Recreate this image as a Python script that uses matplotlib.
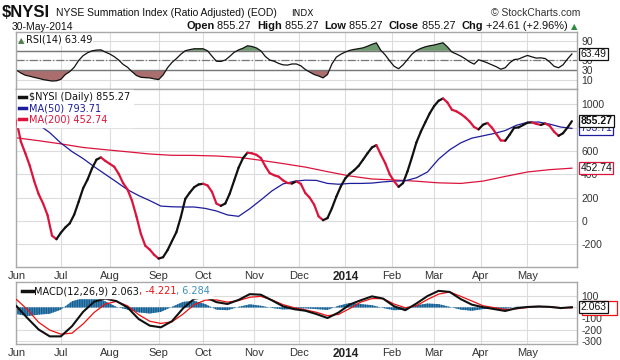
import numpy as np
import pandas as pd
import matplotlib
matplotlib.use("Agg")
import matplotlib.pyplot as plt
from matplotlib.collections import LineCollection
from matplotlib.lines import Line2D
from matplotlib.patches import Rectangle
from matplotlib.transforms import blended_transform_factory
from matplotlib.offsetbox import TextArea, HPacker, DrawingArea, AnchoredOffsetbox

plt.rcParams['font.family'] = ['Liberation Sans', 'DejaVu Sans']

# NYSE trading calendar Jun-2013 .. May-2014
holidays = ['2013-07-04', '2013-09-02', '2013-11-28', '2013-12-25', '2014-01-01',
            '2014-01-20', '2014-02-17', '2014-04-18', '2014-05-26']
days = pd.bdate_range('2013-06-03', '2014-05-30', freq='C', holidays=holidays)

# $NYSI close, every 2nd trading day
nysi = [860, 680, 580, 474, 341, 230, 150, 50, -125, -156,
        -100, -55, -20, 55, 165, 280, 355, 450, 525, 545,
        515, 490, 465, 405, 325, 270, 175, 40, -110, -212,
        -245, -290, -322, -310, -250, -172, -95, 35, 190, 243,
        290, 313, 319, 305, 250, 150, 130, 150, 235, 347,
        458, 540, 585, 580, 567, 540, 470, 410, 392, 380,
        348, 326, 321, 340, 318, 240, 200, 140, 40, 7,
        25, 110, 210, 297, 365, 405, 435, 472, 525, 580,
        630, 650, 570, 495, 400, 340, 293, 325, 425, 545,
        672, 765, 845, 922, 985, 1030, 1050, 1015, 953, 940,
        917, 888, 852, 805, 785, 825, 840, 800, 745, 690,
        688, 740, 798, 802, 822, 842, 845, 832, 823, 836,
        815, 765, 730, 752, 800, 855.27]

# RSI(14), every 2nd trading day
rsi = [30, 24, 19.5, 17.5, 15, 13, 10.5, 9, 7.5, 8,
       11, 21, 27, 36, 50, 60, 66, 70, 71.5, 72,
       67.5, 63.5, 58, 51, 42, 36, 27, 19, 15.3, 14.5,
       14, 12, 10.5, 20, 35, 46, 54, 63, 70.2, 72.5,
       74.3, 74.3, 74.3, 70, 59, 48.5, 48, 51, 58.5, 67,
       72, 75.5, 80.5, 79, 76, 70, 58.5, 51, 48.4, 44,
       41, 40.5, 42.8, 42.8, 39, 31.5, 26, 21, 18, 14,
       21, 43, 57, 63, 67.5, 71, 73, 74.5, 76.2, 79.5,
       83.5, 86.5, 71, 61.5, 49, 38, 33, 41, 52, 63,
       70.5, 75, 78.3, 80.5, 82, 84.5, 86.7, 78, 67.5, 63.5,
       59, 53.5, 47, 42.5, 51.5, 48.5, 45, 41, 37, 32,
       35, 45, 52, 53, 57, 60.5, 57.5, 55, 55.5, 54,
       47, 38, 35, 41, 53, 63.49]

# moving averages: MA(50) every 5th day, MA(200) every 10th day
ma50 = [955, 890, 825, 757, 668, 595, 535, 465, 400, 335,
        268, 218, 175, 128, 122, 120, 120, 108, 86, 52,
        40, 105, 180, 258, 318, 340, 350, 348, 322, 315,
        322, 322, 325, 335, 342, 345, 370, 420, 530, 610,
        670, 710, 730, 750, 775, 820, 846, 848, 830, 805,
        793.71]
ma200 = [713, 688, 661, 630, 611, 593, 574, 563, 562, 557,
         546, 520, 492, 462, 423, 386, 360, 352, 341, 327,
         322, 342, 382, 420, 440, 452.74]

# MACD(12,26,9), every 5th trading day
macd = [12, -98, -200, -262, -262, -170, -40, 52, 80, 57,
        0, -105, -165, -180, -125, -8, 78, 94, 48, 31,
        68, 120, 115, 64, 10, -16, -30, -60, -96, -46,
        26, 65, 100, 80, 10, -25, 35, 103, 150, 140,
        75, 25, 2, -15, -32, -7, 4, 9, 5, -6,
        2.063]
signal = [72, -20, -135, -205, -242, -233, -150, -45, 30, 55,
          14, -65, -125, -145, -130, -60, 25, 66, 68, 48,
          62, 92, 100, 68, 25, -3, -22, -44, -75, -63,
          -10, 48, 80, 80, 30, -3, 15, 72, 120, 140,
          100, 58, 15, -2, -19, -13, 0, 8, 6, -2,
          -4.221]
hist = [-60, -78, -65, -57, -20, 55, 85, 88, 55, 5,
        -20, -45, -55, -40, 5, 50, 60, 30, -20, -25,
        5, 28, 15, -5, -18, -15, -8, -15, -22, 15,
        40, 30, 20, -5, -25, -22, 20, 35, 30, 5,
        -20, -30, -15, -13, -13, 6, 5, 3, 0, -5,
        6.284]

BLACK = '#111111'
CRIMSON = '#dc143c'
NAVY = '#1c1c9c'
GRID = '#dcdcdc'
FRAME = '#a8a8a8'
TICK = '#333333'

pos = np.arange(len(days))
x2, x5, x10 = pos[::2], pos[::5], pos[::10]

month_ticks = [0] + [i for i in range(1, len(days)) if days[i].month != days[i - 1].month]
month_labels = ['2014' if days[i].month == 1 else days[i].strftime('%b') for i in month_ticks]

fig = plt.figure(figsize=(6.2, 3.6), dpi=100)
W, H = 620, 360


def box(l, t, r, b):
    return [l / W, 1 - b / H, (r - l) / W, (b - t) / H]


ax_rsi = fig.add_axes(box(16, 32, 577, 89))
ax = fig.add_axes(box(16, 89, 577, 267))
ax_m = fig.add_axes(box(16, 282, 577, 344))

for a in (ax_rsi, ax, ax_m):
    a.set_xlim(-0.2, 252.3)
    a.set_xticks(month_ticks)
    a.grid(True, color=GRID, lw=0.8)
    a.set_axisbelow(True)
    a.yaxis.tick_right()
    a.tick_params(length=0, labelsize=7.5, colors=TICK, pad=3)
    for s in a.spines.values():
        s.set_color(FRAME)
        s.set_linewidth(1)

for a in (ax, ax_m):
    a.set_xticklabels(month_labels, fontsize=8, color=TICK)
    for lab in a.get_xticklabels():
        if lab.get_text() == '2014':
            lab.set_fontweight('bold')
            lab.set_fontsize(8.5)
            lab.set_color('#222222')
ax_rsi.set_xticklabels([])


def value_box(a, y, s, ec, tc='#111111', bold=False, z=5):
    a.text(1.006, y, s, transform=a.get_yaxis_transform(), va='center', ha='left',
           fontsize=7.5, color=tc, fontweight='bold' if bold else 'normal', zorder=z,
           clip_on=False,
           bbox=dict(boxstyle='square,pad=0.12', fc='white', ec=ec, lw=0.9))


# ---- RSI panel
rsi_a = np.array(rsi)
ax_rsi.set_ylim(-9, 109)
ax_rsi.set_yticks([10, 30, 50, 70, 90])
ax_rsi.set_yticklabels(['10', '30', '50', '', '90'])
ax_rsi.fill_between(x2, rsi_a, 70, where=rsi_a >= 70, interpolate=True, color='#6f9a6f', lw=0)
ax_rsi.fill_between(x2, rsi_a, 30, where=rsi_a <= 30, interpolate=True, color='#aa6e6e', lw=0)
ax_rsi.axhline(70, color='#777777', lw=1)
ax_rsi.axhline(30, color='#777777', lw=1)
ax_rsi.axhline(50, color='#777777', lw=0.9, ls='-.')
ax_rsi.plot(x2, rsi_a, color=BLACK, lw=0.9)
ax_rsi.text(0.004, 0.93, '\u25b2', transform=ax_rsi.transAxes, fontsize=6, color='#4f7f4f',
            va='top', ha='left', family=['DejaVu Sans'])
ax_rsi.text(0.017, 0.95, 'RSI(14) 63.49', transform=ax_rsi.transAxes, fontsize=7,
            va='top', ha='left', family=['DejaVu Sans'], color='#111111',
            bbox=dict(boxstyle='square,pad=0.1', fc='white', ec='none'))
value_box(ax_rsi, rsi[-1], '63.49', '#111111')

# ---- main panel
ax.set_ylim(-394, 1131)
ax.set_yticks([-200, 0, 200, 400, 600, 800, 1000])
ax.set_yticklabels(['-200', '0', '200', '400', '600', '', '1000'])
pts = np.column_stack([x2, nysi])
segs = np.stack([pts[:-1], pts[1:]], axis=1)
cols = [BLACK if b >= a_ else CRIMSON for a_, b in zip(nysi[:-1], nysi[1:])]
ax.add_collection(LineCollection(segs, colors=cols, linewidths=1.6,
                                 capstyle='round', joinstyle='round', zorder=3))
ax.plot(x10, ma200, color=CRIMSON, lw=0.9, zorder=2)
ax.plot(x5, ma50, color=NAVY, lw=0.9, zorder=2)

handles = [Line2D([], [], color=BLACK, lw=2.5),
           Line2D([], [], color=NAVY, lw=2.5),
           Line2D([], [], color=CRIMSON, lw=2.5)]
leg = ax.legend(handles, ['$NYSI (Daily) 855.27', 'MA(50) 793.71', 'MA(200) 452.74'],
                loc='upper left', bbox_to_anchor=(0.0, 1.0), frameon=True,
                facecolor='white', edgecolor='white', framealpha=1, fancybox=False,
                prop={'family': ['DejaVu Sans'], 'size': 7}, handlelength=0.7,
                handletextpad=0.3, labelspacing=0.12, borderpad=0.25, borderaxespad=0.1,
                labelcolor='linecolor')
leg.set_zorder(6)

value_box(ax, ma200[-1], '452.74', CRIMSON)
value_box(ax, ma50[-1], '793.71', NAVY, tc=NAVY, z=5)
value_box(ax, nysi[-1], '855.27', '#111111', bold=True, z=7)

# ---- MACD panel
ax_m.set_ylim(-331, 230)
ax_m.set_yticks([-300, -200, -100, 0, 100])
ax_m.set_yticklabels(['-300', '-200', '-100', '', '100'])
ax_m.fill_between(x5, hist, 0, facecolor='#3d8fc6', edgecolor='#1d5a86', hatch='|||||||',
                  lw=0, zorder=2)
ax_m.plot(x5, signal, color='#ee1111', lw=0.9, zorder=3)
ax_m.plot(x5, macd, color=BLACK, lw=1.5, zorder=4)
# signal-line box peeking out behind the MACD value box
sig_tr = blended_transform_factory(ax_m.transAxes, ax_m.transData)
ax_m.add_patch(Rectangle((1.009, signal[-1] - 60), 0.063, 120, transform=sig_tr,
                         fc='white', ec='#ee1111', lw=0.9, clip_on=False, zorder=5))
value_box(ax_m, macd[-1], '2.063', '#111111', z=6)

da = DrawingArea(10, 6, 0, 0)
da.add_artist(Line2D([1, 9], [3, 3], color=BLACK, lw=2.5))
mprops = dict(family=['DejaVu Sans'], size=7)
pack = HPacker(children=[da,
                         TextArea('MACD(12,26,9) 2.063', textprops=dict(color='#111111', **mprops)),
                         TextArea(', -4.221', textprops=dict(color='#ee1111', **mprops)),
                         TextArea(', 6.284', textprops=dict(color='#3b8fc4', **mprops))],
               align='center', pad=0, sep=0)
mbox = AnchoredOffsetbox(loc='upper left', child=pack, pad=0.15, borderpad=0.15, frameon=True,
                         bbox_to_anchor=(0, 1), bbox_transform=ax_m.transAxes)
mbox.patch.set_facecolor('white')
mbox.patch.set_edgecolor('white')
mbox.set_zorder(6)
ax_m.add_artist(mbox)

# ---- header
fig.text(2 / W, 1 - 17 / H, '$NYSI', fontsize=12, fontweight='bold', color='#111111')
fig.text(56 / W, 1 - 16 / H, 'NYSE Summation Index (Ratio Adjusted) (EOD)', fontsize=7.5,
         color='#111111')
fig.text(291 / W, 1 - 16 / H, 'INDX', fontsize=6.5, color='#111111', family=['DejaVu Sans'])
fig.text(580 / W, 1 - 16 / H, '\u00a9 StockCharts.com', fontsize=7.5, color='#333333', ha='right')
fig.text(12 / W, 1 - 29.5 / H, '30-May-2014', fontsize=7.5, color='#111111')

parts = [('Open', True), (' 855.27  ', False), ('High', True), (' 855.27  ', False),
         ('Low', True), (' 855.27  ', False), ('Close', True), (' 855.27  ', False),
         ('Chg', True), (' +24.61 (+2.96%) ', False)]
kids = [TextArea(t, textprops=dict(fontsize=7.9, color='#111111',
                                   fontweight='bold' if b else 'normal')) for t, b in parts]
kids.append(TextArea('\u25b2', textprops=dict(fontsize=6, color='#2e8b3e',
                                              family=['DejaVu Sans'])))
hpack = HPacker(children=kids, align='baseline', pad=0, sep=0)
fig.add_artist(AnchoredOffsetbox(loc='lower right', child=hpack, pad=0, borderpad=0, frameon=False,
                                 bbox_to_anchor=(577 / W, 1 - 31 / H),
                                 bbox_transform=fig.transFigure))

fig.savefig('out.png', dpi=100)
